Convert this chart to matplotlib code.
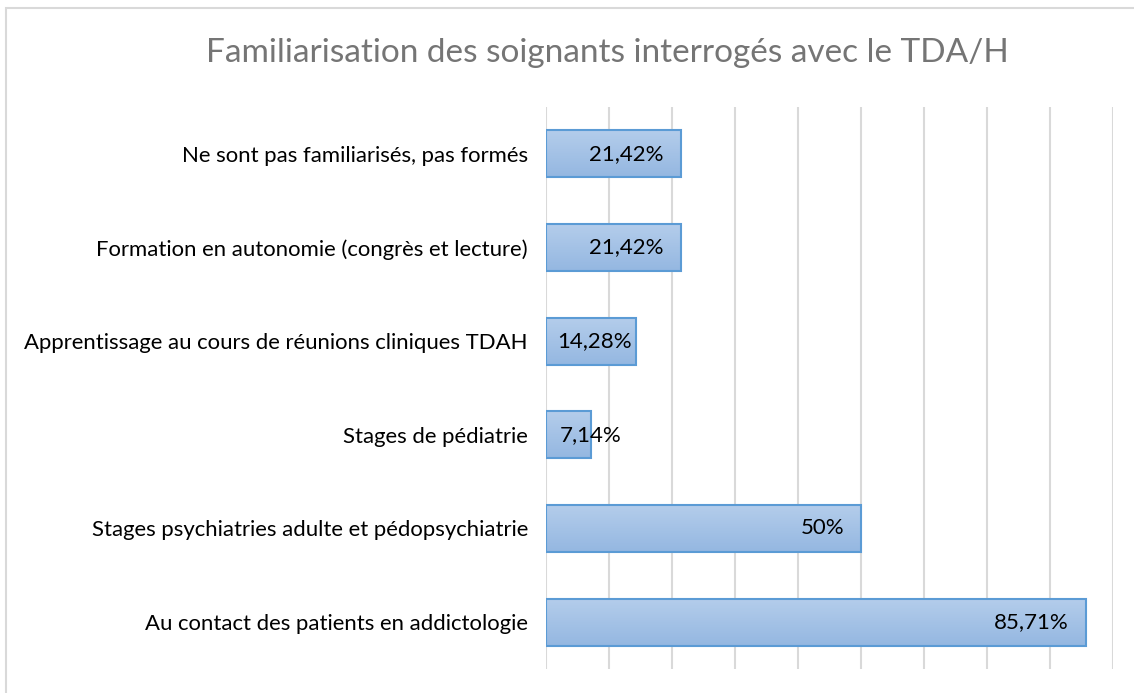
import matplotlib
matplotlib.use("Agg")
import matplotlib.pyplot as plt
import numpy as np
from matplotlib.patches import Rectangle
from matplotlib.colors import LinearSegmentedColormap

categories = [
    "Au contact des patients en addictologie",
    "Stages psychiatries adulte et pédopsychiatrie",
    "Stages de pédiatrie",
    "Apprentissage au cours de réunions cliniques TDAH",
    "Formation en autonomie (congrès et lecture)",
    "Ne sont pas familiarisés, pas formés",
]
values = [85.71, 50, 7.14, 14.28, 21.42, 21.42]
value_labels = ["85,71%", "50%", "7,14%", "14,28%", "21,42%", "21,42%"]
title = "Familiarisation des soignants interrogés avec le TDA/H"

plt.rcParams['font.family'] = ['Lato', 'DejaVu Sans']

W, H = 1134, 693
fig = plt.figure(figsize=(W / 100, H / 100), dpi=100)
fig.patch.set_facecolor("white")

# outer chart border
fig.add_artist(Rectangle((6 / W, -0.01), 1.2, 1 - 8 / H + 0.01, transform=fig.transFigure,
                         fill=False, edgecolor="#d9d9d9", linewidth=1.5))

ax = fig.add_axes([546 / W, 1 - 669 / H, (1113 - 546) / W, (669 - 107) / H])
ax.set_xlim(0, 90)
ax.set_ylim(-0.5, len(categories) - 0.5)
ax.set_xticks(np.arange(0, 91, 10))
ax.set_xticklabels([])
ax.tick_params(axis="x", length=0)
ax.tick_params(axis="y", length=0, pad=13, labelsize=15.9, labelcolor="#000000")
ax.grid(axis="x", color="#d9d9d9", linewidth=1.5)
ax.set_axisbelow(True)
for s in ax.spines.values():
    s.set_visible(False)

y = np.arange(len(categories))
bars = ax.barh(y, values, height=0.5, color="none", edgecolor="#5b9bd5", linewidth=1.5, zorder=3)
ax.set_yticks(y)
ax.set_yticklabels(categories)

grad = np.linspace(0, 1, 256).reshape(-1, 1)
cmap = LinearSegmentedColormap.from_list("g", ["#b4cdeb", "#94b7e1"])
for b in bars:
    x0, y0 = b.get_x(), b.get_y()
    w, h = b.get_width(), b.get_height()
    im = ax.imshow(grad, extent=(x0, x0 + w, y0, y0 + h), origin="upper", cmap=cmap,
                   aspect="auto", zorder=2, interpolation="bicubic")
    im.set_clip_path(b)
ax.set_xlim(0, 90)
ax.set_ylim(-0.5, len(categories) - 0.5)

# data labels (inside end, Excel-like)
fig.canvas.draw()
renderer = fig.canvas.get_renderer()
px_per_unit = (1113 - 546) / 90.0
for yi, v, lab in zip(y, values, value_labels):
    t = ax.text(v, yi, lab, ha="right", va="center", fontsize=16, color="#000000", zorder=4)
    tw = t.get_window_extent(renderer).width
    bar_px = v * px_per_unit
    if bar_px >= tw + 34:
        t.set_x(v - 17 / px_per_unit)
    elif bar_px >= tw:
        t.set_x(v - 4 / px_per_unit)
    else:
        t.set_ha("center")

fig.text(607 / W, 1 - 53 / H, title, ha="center", va="center", fontsize=24,
         color="#757575")

fig.savefig("out.png", dpi=100, facecolor="white")
